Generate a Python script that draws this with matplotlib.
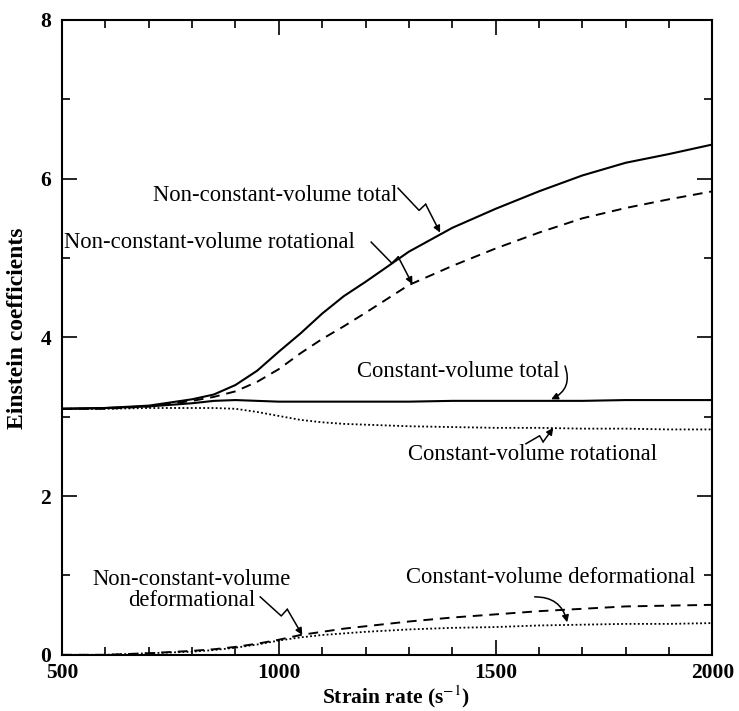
import numpy as np
import matplotlib
matplotlib.use('Agg')
import matplotlib.pyplot as plt
from matplotlib.ticker import MultipleLocator

plt.rcParams['font.family'] = ['Liberation Serif', 'DejaVu Serif']
plt.rcParams['mathtext.fontset'] = 'stix'

# strain rate (s^-1)
strain = [500, 600, 700, 800, 850, 900, 950, 1000, 1050, 1100, 1150, 1200,
          1300, 1400, 1500, 1600, 1700, 1800, 1900, 2000]

# Einstein coefficients
ncv_total = [3.10, 3.11, 3.14, 3.22, 3.28, 3.40, 3.58, 3.82, 4.05, 4.30, 4.52, 4.70,
             5.08, 5.38, 5.62, 5.84, 6.04, 6.20, 6.31, 6.43]
ncv_rot = [3.10, 3.10, 3.13, 3.20, 3.25, 3.32, 3.44, 3.60, 3.80, 3.98, 4.14, 4.31,
           4.66, 4.90, 5.12, 5.32, 5.50, 5.63, 5.74, 5.84]
cv_total = [3.10, 3.11, 3.13, 3.17, 3.20, 3.21, 3.20, 3.19, 3.19, 3.19, 3.19, 3.19,
            3.19, 3.20, 3.20, 3.20, 3.20, 3.21, 3.21, 3.21]
cv_rot = [3.10, 3.10, 3.11, 3.11, 3.11, 3.10, 3.06, 3.01, 2.96, 2.93, 2.91, 2.90,
          2.88, 2.87, 2.86, 2.86, 2.85, 2.85, 2.84, 2.84]
ncv_def = [0.00, 0.00, 0.02, 0.05, 0.07, 0.10, 0.14, 0.19, 0.25, 0.29, 0.33, 0.36,
           0.42, 0.47, 0.51, 0.55, 0.58, 0.61, 0.62, 0.63]
cv_def = [0.00, 0.00, 0.02, 0.04, 0.06, 0.09, 0.13, 0.18, 0.22, 0.25, 0.27, 0.29,
          0.32, 0.34, 0.35, 0.37, 0.38, 0.39, 0.39, 0.40]

FS = 16.3
dashed = (0, (5, 3.5))
dotted = (0, (1, 1.3))

fig = plt.figure(figsize=(7.39, 7.11), dpi=100)
ax = fig.add_axes([0.084, 0.079, 0.880, 0.893])

ax.plot(strain, ncv_total, color='black', lw=1.5)
ax.plot(strain, ncv_rot, color='black', lw=1.4, ls=dashed)
ax.plot(strain, cv_total, color='black', lw=1.5)
ax.plot(strain, cv_rot, color='black', lw=1.3, ls=dotted)
ax.plot(strain, ncv_def, color='black', lw=1.4, ls=dashed)
ax.plot(strain, cv_def, color='black', lw=1.3, ls=dotted)

ax.set_xlim(500, 2000)
ax.set_ylim(0, 8)
ax.xaxis.set_major_locator(MultipleLocator(500))
ax.xaxis.set_minor_locator(MultipleLocator(100))
ax.yaxis.set_major_locator(MultipleLocator(2))
ax.yaxis.set_minor_locator(MultipleLocator(1))
ax.tick_params(which='both', direction='in', top=True, right=True,
               labelsize=15.5, width=1.2)
ax.tick_params(axis='x', pad=6)
ax.tick_params(axis='y', pad=8)
ax.tick_params(which='major', length=11)
ax.tick_params(which='minor', length=5.5)
for sp in ax.spines.values():
    sp.set_linewidth(1.5)
for lab in ax.get_xticklabels() + ax.get_yticklabels():
    lab.set_fontweight('bold')

ax.set_xlabel('Strain rate (s$^{-1}$)', fontsize=15.5, fontweight='bold')
ax.set_ylabel('Einstein coefficients', fontsize=17, fontweight='bold')
ax.xaxis.set_label_coords(0.514, -0.045)
ax.yaxis.set_label_coords(-0.052, 0.515)


def zigzag(start, end, jog=9):
    """Lightning-style leader from start to end (data coords)."""
    to_px = ax.transData.transform
    to_data = ax.transData.inverted().transform
    p0 = np.array(to_px(start))
    p3 = np.array(to_px(end))
    d = p3 - p0
    n = np.array([-d[1], d[0]]) / np.hypot(*d)
    p1 = p0 + 0.50 * d
    p2 = p1 + n * jog
    pts = to_data(np.array([p0, p1, p2]))
    ax.plot(pts[:, 0], pts[:, 1], color='black', lw=1.1)
    ax.annotate('', xy=end, xytext=tuple(pts[2]),
                arrowprops=dict(arrowstyle='-|>', color='black', lw=1.1,
                                mutation_scale=10, shrinkA=0, shrinkB=0))


def curved(start, end, rad):
    ax.annotate('', xy=end, xytext=start,
                arrowprops=dict(arrowstyle='-|>', color='black', lw=1.1,
                                mutation_scale=10, shrinkA=0, shrinkB=0,
                                connectionstyle=f'arc3,rad={rad}'))


ax.text(991, 5.79, 'Non-constant-volume total', fontsize=FS, ha='center', va='center')
zigzag((1275, 5.88), (1372, 5.32))

ax.text(505, 5.19, 'Non-constant-volume rotational', fontsize=FS, ha='left', va='center')
zigzag((1213, 5.2), (1308, 4.67))

ax.text(1414, 3.57, 'Constant-volume total', fontsize=FS, ha='center', va='center')
curved((1660, 3.64), (1628, 3.22), -0.45)

ax.text(1585, 2.52, 'Constant-volume rotational', fontsize=FS, ha='center', va='center')
zigzag((1570, 2.66), (1633, 2.86), jog=-7)

ax.text(798, 0.82, 'Non-constant-volume\ndeformational', fontsize=FS,
        ha='center', va='center', linespacing=1.0)
zigzag((957, 0.73), (1054, 0.25))

ax.text(1626, 0.97, 'Constant-volume deformational', fontsize=FS, ha='center', va='center')
curved((1590, 0.73), (1665, 0.41), -0.4)

fig.savefig('out.png', dpi=100, facecolor='white')
